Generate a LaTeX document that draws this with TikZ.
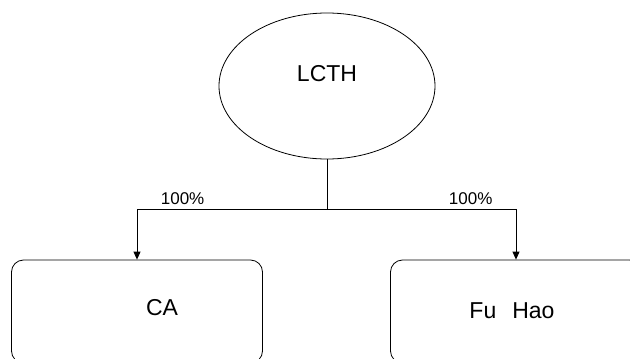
\documentclass[tikz,border=0pt]{standalone}
\usepackage{fontspec}
\setmainfont{Liberation Sans}
\usepackage{tikz}
\usetikzlibrary{shapes.geometric,arrows.meta}

\begin{document}
\begin{tikzpicture}[x=1pt, y=-1pt, line width=0.8pt,
        owner/.style={ellipse, draw, minimum width=216pt, minimum height=146pt, inner sep=0pt},
        company/.style={rectangle, draw, rounded corners=12pt, minimum width=251pt, minimum height=103pt, inner sep=0pt},
        big/.style={font=\fontsize{23}{27}\selectfont},
        share/.style={font=\fontsize{17}{20}\selectfont, above, inner sep=4pt},
        arr/.style={-{Triangle[width=7pt,length=8pt]}}]
            \clip (0,0) rectangle (630,359);
            % Nodes
            \node[owner, label={[big, yshift=12pt]center:LCTH}] (lcth) at (327,86) {};
            \node[company, label={[big, xshift=25pt, yshift=4pt]center:CA}] (ca) at (137,311.5) {};
            \node[company, label={[big, xshift=-4pt, yshift=1pt]center:Fu\hspace{16pt}Hao}] (fuhao) at (516,311.5) {};
            \coordinate (fork) at (327,209);

            % Edges
            \draw (lcth.south) -- (fork);
            \draw[arr] (fork) -| (ca.north) node[share, pos=0.38] {100\%};
            \draw[arr] (fork) -| (fuhao.north) node[share, pos=0.38] {100\%};
        \end{tikzpicture}
\end{document}
